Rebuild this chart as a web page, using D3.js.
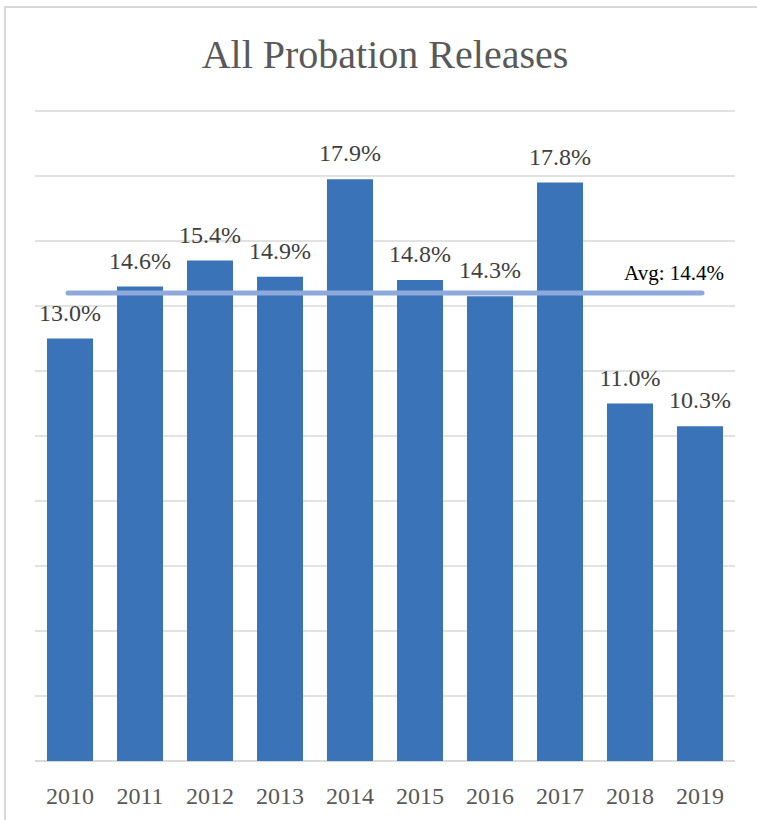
<!DOCTYPE html>
<html>
<head>
<meta charset="utf-8">
<script src="https://cdn.jsdelivr.net/npm/d3@7"></script>
<style>
  html, body { margin: 0; padding: 0; background: #fff; }
  svg { display: block; }
  svg text { font-family: "Liberation Serif", "DejaVu Serif", serif; }
</style>
</head>
<body>
<svg id="chart" width="757" height="820"></svg>
<script>
(() => {
  const years = ['2010', '2011', '2012', '2013', '2014', '2015', '2016', '2017', '2018', '2019'];
  const rates = [13.0, 14.6, 15.4, 14.9, 17.9, 14.8, 14.3, 17.8, 11.0, 10.3];
  const average = 14.4;
  const yTicks = [0, 2, 4, 6, 8, 10, 12, 14, 16, 18, 20];

  const font = '"Liberation Serif", "DejaVu Serif", serif';

  const svg = d3.select('#chart'),
      width = +svg.attr('width'),
      height = +svg.attr('height');

  // frame (only top and left show in the crop)
  svg.append('path')
      .attr('d', `M5,${height}V7H${width}`)
      .attr('fill', 'none')
      .attr('stroke', '#d9d9d9')
      .attr('stroke-width', 2);

  const x = d3.scaleBand()
      .domain(years)
      .range([35, 735])
      .paddingInner(0.343)
      .paddingOuter(0.1715);

  const y = d3.scaleLinear()
      .domain([0, 20])
      .range([761, 111]);

  svg.append('text')
      .attr('x', 385)
      .attr('y', 68)
      .attr('text-anchor', 'middle')
      .style('font-family', font)
      .attr('font-size', 40)
      .attr('fill', '#595959')
      .text('All Probation Releases');

  // gridlines
  svg.append('g')
      .selectAll('line')
      .data(yTicks)
      .enter().append('line')
      .attr('x1', 35)
      .attr('x2', 735)
      .attr('y1', d => y(d))
      .attr('y2', d => y(d))
      .attr('stroke', '#d9d9d9')
      .attr('stroke-width', d => d === 0 ? 2 : 1.5);

  svg.append('g')
      .selectAll('rect')
      .data(rates)
      .enter().append('rect')
      .attr('x', (d, i) => x(years[i]))
      .attr('width', x.bandwidth())
      .attr('y', d => y(d))
      .attr('height', d => y(0) - y(d))
      .attr('fill', '#3b73b9');

  svg.append('g')
      .selectAll('text')
      .data(rates)
      .enter().append('text')
      .attr('x', (d, i) => x(years[i]) + x.bandwidth() / 2)
      .attr('y', d => y(d) - 18)
      .attr('text-anchor', 'middle')
      .style('font-family', font)
      .attr('font-size', 24)
      .attr('fill', '#404040')
      .text(d => `${d.toFixed(1)}%`);

  // x axis labels
  const xAxis = svg.append('g')
      .attr('transform', `translate(0,${y(0)})`)
      .call(d3.axisBottom(x).tickSize(0).tickPadding(0))
      .attr('font-family', null);
  xAxis.select('.domain').remove();
  xAxis.selectAll('text')
      .attr('dy', null)
      .attr('y', 43)
      .style('font-family', font)
      .attr('font-size', 24)
      .attr('fill', '#595959');

  // average line
  svg.append('line')
      .attr('x1', 68)
      .attr('x2', 702)
      .attr('y1', y(average))
      .attr('y2', y(average))
      .attr('stroke', '#8eaadb')
      .attr('stroke-width', 5)
      .attr('stroke-linecap', 'round');

  svg.append('text')
      .attr('x', 724)
      .attr('y', y(average) - 13)
      .attr('text-anchor', 'end')
      .style('font-family', font)
      .attr('font-size', 21)
      .attr('fill', '#000')
      .text(`Avg: ${average.toFixed(1)}%`);
})();
</script>
</body>
</html>
